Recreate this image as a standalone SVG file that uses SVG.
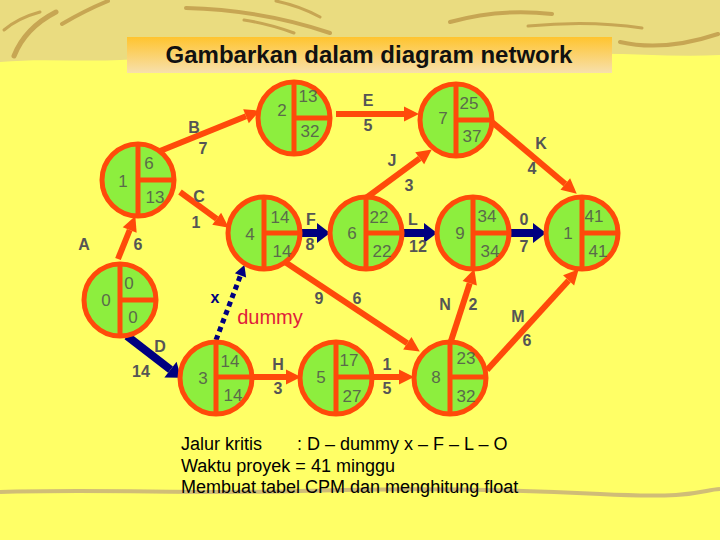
<svg xmlns="http://www.w3.org/2000/svg" width="720" height="540" viewBox="0 0 720 540">
<defs>
<linearGradient id="titleGrad" x1="0" y1="0" x2="0" y2="1">
<stop offset="0" stop-color="#FFC42E"/>
<stop offset="1" stop-color="#F7E0AC"/>
</linearGradient>
<marker id="ho" markerUnits="userSpaceOnUse" markerWidth="15" markerHeight="15" refX="0" refY="7.5" orient="auto" overflow="visible">
<path d="M0,0 L15,7.5 L0,15 z" fill="#FF4A0A"/>
</marker>
<marker id="hb" markerUnits="userSpaceOnUse" markerWidth="13" markerHeight="20" refX="0" refY="10" orient="auto" overflow="visible">
<path d="M0,0 L13,10 L0,20 z" fill="#000080"/>
</marker>
<marker id="hs" markerUnits="userSpaceOnUse" markerWidth="11" markerHeight="12" refX="0" refY="6" orient="auto" overflow="visible">
<path d="M0,0 L11,6 L0,12 z" fill="#000080"/>
</marker>
</defs>
<style>
.node circle{fill:#8DEE3E;stroke:#FF4A0A;stroke-width:5}
.node line{stroke:#FF4A0A;stroke-width:5}
.node text{font-family:"Liberation Sans",Arial,sans-serif;font-size:17px;fill:#5A6B4A;text-anchor:middle}
.eo{stroke:#FF4A0A;stroke-width:6;fill:none;marker-end:url(#ho)}
.eb{stroke:#000080;stroke-width:8;fill:none;marker-end:url(#hb)}
.lbl{font-family:"Liberation Sans",Arial,sans-serif;font-size:16px;font-weight:bold;fill:#555555;text-anchor:middle}
.brush{fill:none;stroke:#C7A653;stroke-linecap:round}
.note{font-family:"Liberation Sans",Arial,sans-serif;font-size:18px;fill:#000}
</style>
<rect x="0" y="0" width="720" height="540" fill="#FFFF66"/>
<path d="M0,0 H720 V55 C660,58 610,50 550,56 C480,61 420,53 360,57 C290,61 200,56 120,60 C80,62 40,58 0,62 Z" fill="#EADC80"/>
<g id="decor">
<path class="brush" d="M14,56 Q25,28 56,12" stroke-width="5"/>
<path class="brush" d="M4,30 Q18,18 40,12" stroke-width="3"/>
<path class="brush" d="M62,24 Q86,10 108,1" stroke-width="4"/>
<path class="brush" d="M186,8 Q262,10 330,33" stroke-width="4"/>
<path class="brush" d="M244,20 Q270,24 294,33" stroke-width="3"/>
<path class="brush" d="M276,1 Q300,6 320,17" stroke-width="3"/>
<path class="brush" d="M450,22 Q500,8 552,14" stroke-width="4"/>
<path class="brush" d="M528,26 Q590,20 642,28" stroke-width="3"/>
<path class="brush" d="M620,42 Q664,52 718,34" stroke-width="4"/>
<path d="M0,492 C100,489 200,494 300,491 S500,489 600,494 S700,490 720,489" fill="none" stroke="#C8B27A" stroke-width="4" opacity="0.85"/>
</g>
<g id="title">
<rect x="127" y="37" width="485" height="36" fill="url(#titleGrad)"/>
<text x="369" y="63" text-anchor="middle" font-family="'Liberation Sans',Arial,sans-serif" font-size="24" font-weight="bold" fill="#111">Gambarkan dalam diagram network</text>
</g>
<g id="connectors">
<line class="eo" x1="118" y1="259" x2="129.7" y2="230"/>
<line class="eo" x1="160" y1="151" x2="246" y2="116.3"/>
<line class="eo" x1="180" y1="192" x2="216.7" y2="218.8"/>
<line class="eo" x1="336" y1="114" x2="404" y2="114"/>
<line class="eo" x1="366" y1="198" x2="419.7" y2="158.3"/>
<line class="eo" x1="492" y1="122" x2="565.3" y2="184"/>
<line class="eo" x1="253" y1="377" x2="286" y2="377"/>
<line class="eo" x1="373" y1="377" x2="399" y2="377"/>
<line class="eo" x1="285" y1="262" x2="407.3" y2="343.3"/>
<line class="eo" x1="451" y1="341" x2="469.7" y2="283.3"/>
<line class="eo" x1="487" y1="370" x2="568.6" y2="280.4"/>
<line class="eb" x1="300" y1="233" x2="317" y2="233"/>
<line class="eb" x1="402" y1="233" x2="424" y2="233"/>
<line class="eb" x1="510" y1="233" x2="533" y2="233"/>
<line class="eb" x1="127" y1="336" x2="170.5" y2="369.7"/>
<line x1="216" y1="340" x2="240.5" y2="275.4" stroke="#000080" stroke-width="5" stroke-dasharray="5 4" marker-end="url(#hs)"/>
</g>
<g id="edge-labels">
<text class="lbl" x="84" y="250">A</text>
<text class="lbl" x="138" y="250">6</text>
<text class="lbl" x="194" y="133">B</text>
<text class="lbl" x="203" y="154">7</text>
<text class="lbl" x="199" y="202">C</text>
<text class="lbl" x="196" y="228">1</text>
<text class="lbl" x="368" y="106">E</text>
<text class="lbl" x="368" y="131">5</text>
<text class="lbl" x="392" y="166">J</text>
<text class="lbl" x="409" y="191">3</text>
<text class="lbl" x="541" y="149">K</text>
<text class="lbl" x="532" y="174">4</text>
<text class="lbl" x="311" y="225">F</text>
<text class="lbl" x="310" y="250">8</text>
<text class="lbl" x="413" y="225">L</text>
<text class="lbl" x="418" y="252">12</text>
<text class="lbl" x="524" y="225">0</text>
<text class="lbl" x="524" y="252">7</text>
<text class="lbl" x="160" y="352">D</text>
<text class="lbl" x="141" y="377">14</text>
<text class="lbl" x="215" y="303" style="fill:#000080">x</text>
<text x="270" y="324" text-anchor="middle" font-family="'Liberation Sans',Arial,sans-serif" font-size="20" fill="#E0203A">dummy</text>
<text class="lbl" x="278" y="370">H</text>
<text class="lbl" x="278" y="394">3</text>
<text class="lbl" x="387" y="370">1</text>
<text class="lbl" x="387" y="394">5</text>
<text class="lbl" x="319" y="304">9</text>
<text class="lbl" x="357" y="304">6</text>
<text class="lbl" x="445" y="310">N</text>
<text class="lbl" x="473" y="310">2</text>
<text class="lbl" x="518" y="322">M</text>
<text class="lbl" x="527" y="346">6</text>
</g>
<g id="node-0" class="node"><circle cx="120" cy="300" r="36"/><line x1="120" y1="264" x2="120" y2="336"/><line x1="120" y1="300" x2="156" y2="300"/><text x="106" y="306">0</text><text x="129" y="289">0</text><text x="133" y="323">0</text></g>
<g id="node-1" class="node"><circle cx="138" cy="180" r="36"/><line x1="138" y1="144" x2="138" y2="216"/><line x1="138" y1="180" x2="174" y2="180"/><text x="123" y="187">1</text><text x="149" y="169">6</text><text x="155" y="203">13</text></g>
<g id="node-2" class="node"><circle cx="294" cy="118" r="36"/><line x1="294" y1="82" x2="294" y2="154"/><line x1="294" y1="118" x2="330" y2="118"/><text x="282" y="116">2</text><text x="308" y="102">13</text><text x="310" y="137">32</text></g>
<g id="node-7" class="node"><circle cx="456" cy="120" r="36"/><line x1="456" y1="84" x2="456" y2="156"/><line x1="456" y1="120" x2="492" y2="120"/><text x="443" y="124">7</text><text x="469" y="109">25</text><text x="472" y="142">37</text></g>
<g id="node-4" class="node"><circle cx="264" cy="233" r="36"/><line x1="264" y1="197" x2="264" y2="269"/><line x1="264" y1="233" x2="300" y2="233"/><text x="250" y="240">4</text><text x="280" y="223">14</text><text x="282" y="257">14</text></g>
<g id="node-6" class="node"><circle cx="366" cy="233" r="36"/><line x1="366" y1="197" x2="366" y2="269"/><line x1="366" y1="233" x2="402" y2="233"/><text x="352" y="239">6</text><text x="379" y="223">22</text><text x="382" y="257">22</text></g>
<g id="node-9" class="node"><circle cx="473" cy="233" r="36"/><line x1="473" y1="197" x2="473" y2="269"/><line x1="473" y1="233" x2="509" y2="233"/><text x="460" y="239">9</text><text x="487" y="222">34</text><text x="490" y="257">34</text></g>
<g id="node-10" class="node"><circle cx="582" cy="233" r="36"/><line x1="582" y1="197" x2="582" y2="269"/><line x1="582" y1="233" x2="618" y2="233"/><text x="568" y="239">1</text><text x="594" y="222">41</text><text x="598" y="257">41</text></g>
<g id="node-3" class="node"><circle cx="216" cy="378" r="36"/><line x1="216" y1="342" x2="216" y2="414"/><line x1="216" y1="377" x2="252" y2="377"/><text x="203" y="384">3</text><text x="230" y="367">14</text><text x="233" y="401">14</text></g>
<g id="node-5" class="node"><circle cx="336" cy="378" r="36"/><line x1="336" y1="342" x2="336" y2="414"/><line x1="336" y1="377" x2="372" y2="377"/><text x="321" y="383">5</text><text x="349" y="366">17</text><text x="352" y="402">27</text></g>
<g id="node-8" class="node"><circle cx="450" cy="378" r="36"/><line x1="450" y1="342" x2="450" y2="414"/><line x1="450" y1="377" x2="486" y2="377"/><text x="436" y="383">8</text><text x="466" y="364">23</text><text x="466" y="402">32</text></g>
<g id="notes">
<text class="note" x="181" y="450">Jalur kritis</text>
<text class="note" x="297" y="450">: D – dummy x – F – L – O</text>
<text class="note" x="181" y="472">Waktu proyek = 41 minggu</text>
<text class="note" x="181" y="493">Membuat tabel CPM dan menghitung float</text>
</g>
</svg>
